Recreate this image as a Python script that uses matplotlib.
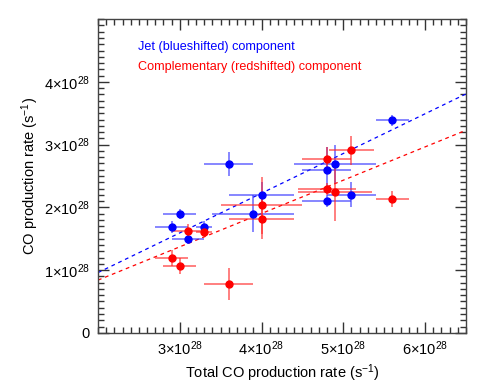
import numpy as np
import matplotlib
matplotlib.use("Agg")
import matplotlib.pyplot as plt
from matplotlib.ticker import MultipleLocator, FixedLocator

plt.rcParams['font.family'] = ['Liberation Sans', 'DejaVu Sans']
plt.rcParams['mathtext.fontset'] = 'custom'
plt.rcParams['mathtext.rm'] = 'Liberation Sans'
plt.rcParams['mathtext.it'] = 'Liberation Sans:italic'

# values in units of 1e28 s^-1
blue_x = [2.9, 3.0, 3.1, 3.3, 3.6, 3.9, 4.0, 4.8, 4.8, 4.9, 5.1, 5.6]
blue_y = [1.69, 1.9, 1.5, 1.69, 2.69, 1.9, 2.2, 2.59, 2.1, 2.69, 2.2, 3.39]
blue_xerr = [0.2, 0.2, 0.2, 0.1, 0.3, 0.5, 0.4, 0.3, 0.3, 0.5, 0.3, 0.2]
blue_yerr = [0.1, 0.08, 0.08, 0.09, 0.19, 0.29, 0.2, 0.38, 0.1, 0.3, 0.2, 0.09]

red_x = [2.9, 3.0, 3.1, 3.3, 3.6, 4.0, 4.0, 4.8, 4.8, 4.9, 5.1, 5.6]
red_y = [1.19, 1.06, 1.63, 1.6, 0.78, 2.03, 1.82, 2.77, 2.29, 2.24, 2.91, 2.13]
red_xerr = [0.2, 0.2, 0.2, 0.1, 0.3, 0.5, 0.4, 0.3, 0.35, 0.45, 0.28, 0.2]
red_yerr = [0.13, 0.13, 0.11, 0.05, 0.26, 0.45, 0.32, 0.2, 0.1, 0.45, 0.23, 0.13]

# linear fits (slope, intercept)
blue_fit = (0.633, -0.306)
red_fit = (0.531, -0.222)

x_ticks = [3, 4, 5, 6]
y_ticks = [0, 1, 2, 3, 4]

fig = plt.figure(figsize=(4.91, 3.92), dpi=100)
ax = fig.add_axes([0.1996, 0.151, 0.7494, 0.8])

xx = np.array([2.0, 6.5])
ax.plot(xx, blue_fit[0] * xx + blue_fit[1], color='blue', lw=0.9,
        dashes=(3, 3))
ax.plot(xx, red_fit[0] * xx + red_fit[1], color='red', lw=0.9,
        dashes=(3, 3))

ax.errorbar(blue_x, blue_y, xerr=blue_xerr, yerr=blue_yerr, fmt='o',
            color='blue', ms=5, elinewidth=1.1, capsize=0,
            ecolor=(0.2, 0.2, 1.0, 0.75))
ax.errorbar(red_x, red_y, xerr=red_xerr, yerr=red_yerr, fmt='o',
            color='red', ms=5, elinewidth=1.1, capsize=0,
            ecolor=(1.0, 0.15, 0.15, 0.75))

ax.set_xlim(2.0, 6.5)
ax.set_ylim(0, 5.0)

ax.xaxis.set_major_locator(FixedLocator(x_ticks))
ax.yaxis.set_major_locator(FixedLocator(y_ticks))
ax.xaxis.set_minor_locator(MultipleLocator(0.1))
ax.yaxis.set_minor_locator(MultipleLocator(0.1))


def lab(v):
    if v == 0:
        return '0'
    return r'$\mathregular{%d{\times}10^{28}}$' % v


ax.set_xticklabels([lab(v) for v in x_ticks])
ax.set_yticklabels([lab(v) for v in y_ticks])

ax.tick_params(which='both', direction='in', top=True, right=True,
               color='#333333', width=1.0, labelsize=10.5)
ax.tick_params(which='major', length=8)
ax.tick_params(which='minor', length=4.5)
ax.tick_params(axis='x', pad=5)
ax.tick_params(axis='y', pad=6)
for s in ax.spines.values():
    s.set_color('#444444')
    s.set_linewidth(1.0)

ax.set_xlabel(r'Total CO production rate (s$^{-1}$)', fontsize=10.5,
              labelpad=3)
ax.set_ylabel(r'CO production rate (s$^{-1}$)', fontsize=10.5, labelpad=1.5)

ax.text(0.11, 0.91, 'Jet (blueshifted) component', color='blue',
        fontsize=9.1, transform=ax.transAxes, va='center')
ax.text(0.11, 0.848, 'Complementary (redshifted) component', color='red',
        fontsize=9.1, transform=ax.transAxes, va='center')

fig.savefig('out.png', dpi=100)
